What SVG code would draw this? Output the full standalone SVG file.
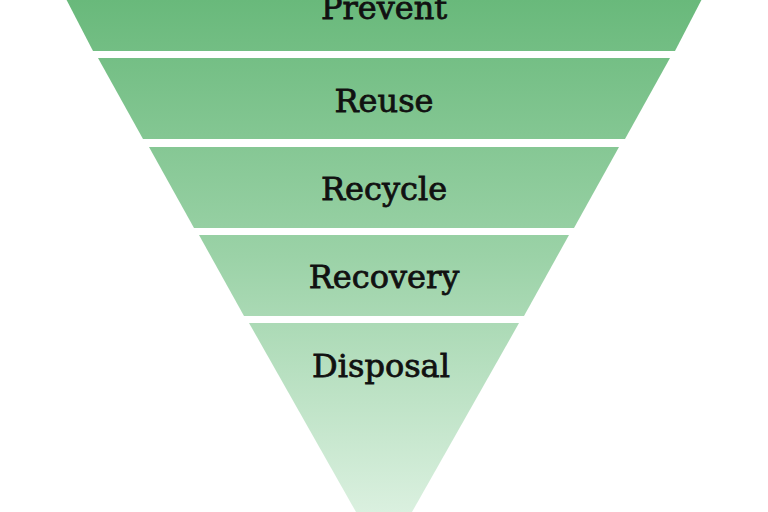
<svg xmlns="http://www.w3.org/2000/svg" width="768" height="512" viewBox="0 0 768 512">
<defs>
<linearGradient id="g" gradientUnits="userSpaceOnUse" x1="0" y1="0" x2="0" y2="512">
<stop offset="0" stop-color="#69b97b"/>
<stop offset="0.5" stop-color="#9bd2a7"/>
<stop offset="1" stop-color="#daf0df"/>
</linearGradient>
</defs>
<style>
.b{fill:url(#g)}
.t{font-family:"DejaVu Serif","Liberation Serif",serif;font-size:32px;fill:#111;stroke:#111;stroke-width:0.8;text-anchor:middle}
</style>
<rect width="768" height="512" fill="#fff"/>
<g id="prevent"><polygon class="b" points="64,-5 704,-5 675,51 93,51"/><text class="t" x="384" y="19">Prevent</text></g>
<g id="reuse"><polygon class="b" points="98,58 670,58 625,139 143,139"/><text class="t" x="384" y="112">Reuse</text></g>
<g id="recycle"><polygon class="b" points="149,147 619,147 574,228 194,228"/><text class="t" x="384" y="200">Recycle</text></g>
<g id="recovery"><polygon class="b" points="199,235 569,235 524,316 244,316"/><text class="t" x="384" y="288">Recovery</text></g>
<g id="disposal"><polygon class="b" points="249,323 519,323 412,512 356,512"/><text class="t" x="381" y="377">Disposal</text></g>
<g id="connectors"/>
</svg>
